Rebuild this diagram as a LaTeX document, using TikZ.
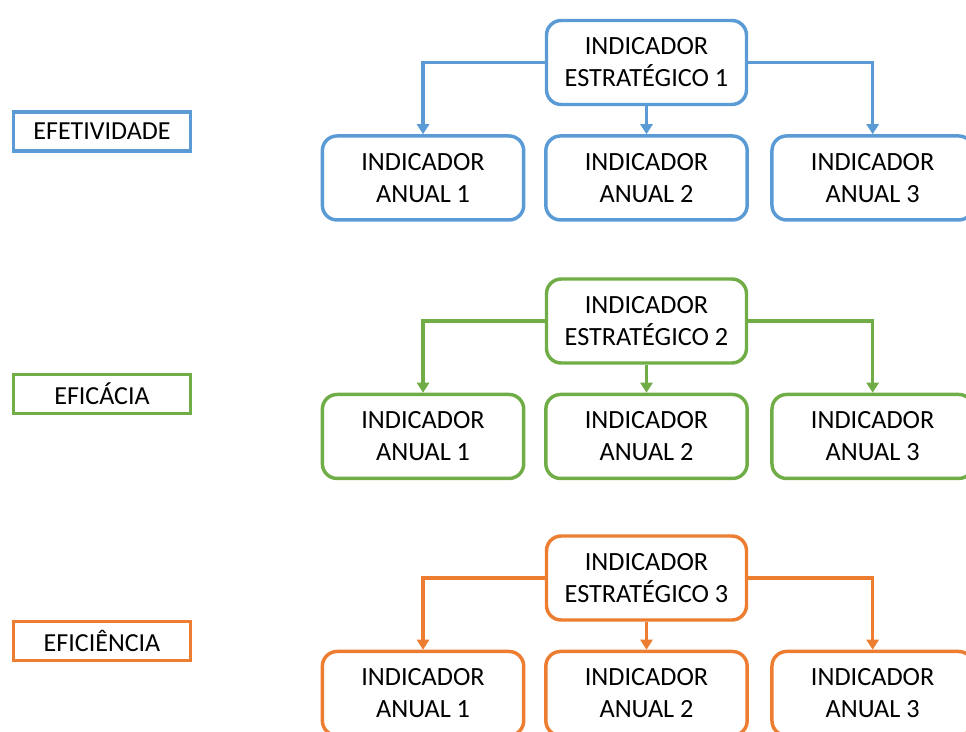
\documentclass[tikz,border=0pt]{standalone}
\usepackage{fontspec}
\setmainfont{Carlito}
\usetikzlibrary{positioning,arrows.meta}

\definecolor{azul}{HTML}{5B9BD5}
\definecolor{verde}{HTML}{70AD47}
\definecolor{laranja}{HTML}{ED7D31}

\tikzset{caixa/.style = {draw = #1, line width = 2.6pt, rounded corners = 11pt,
                         align = center, inner sep = 0pt,
                         font = \fontsize{19.7}{24}\selectfont},
         estrat/.style = {caixa = #1, minimum width = 150pt, minimum height = 63pt},
         anual/.style  = {caixa = #1, minimum width = 151pt, minimum height = 63pt},
         rotulo/.style = {draw = #1, line width = 2.6pt, minimum width = 133pt,
                          minimum height = 29pt, inner sep = 0pt,
                          font = \fontsize{19.5}{24}\selectfont},
         seta/.style   = {draw = #1, line width = 2.6pt,
                          -{Triangle[length = 7.5pt, width = 9pt]}}
        }

\begin{document}
\begin{tikzpicture}[x = 0.75pt, y = 0.75pt]
  \useasboundingbox (0,0) rectangle (966,-731);
  \clip (0,0) rectangle (966,-731);

  % efetividade
  \node[rotulo = azul] (r1) at (102,-131.5) {EFETIVIDADE};
  \node[estrat = azul] (e1) at (646.5,-62.5) {INDICADOR\\ESTRAT\'EGICO 1};
  \node[anual = azul, below = 21pt of e1] (a12) {INDICADOR\\ANUAL 2};
  \node[anual = azul, left = 14pt of a12] (a11) {INDICADOR\\ANUAL 1};
  \node[anual = azul, right = 16pt of a12] (a13) {INDICADOR\\ANUAL 3};
  \draw[seta = azul] (e1.west) -| (a11.north);
  \draw[seta = azul] (e1.south) -- (a12.north);
  \draw[seta = azul] (e1.east) -| (a13.north);

  % eficacia
  \node[rotulo = verde] (r2) at (102,-394) {EFIC\'ACIA};
  \node[estrat = verde] (e2) at (646.5,-321) {INDICADOR\\ESTRAT\'EGICO 2};
  \node[anual = verde, below = 21pt of e2] (a22) {INDICADOR\\ANUAL 2};
  \node[anual = verde, left = 14pt of a22] (a21) {INDICADOR\\ANUAL 1};
  \node[anual = verde, right = 16pt of a22] (a23) {INDICADOR\\ANUAL 3};
  \draw[seta = verde] (e2.west) -| (a21.north);
  \draw[seta = verde] (e2.south) -- (a22.north);
  \draw[seta = verde] (e2.east) -| (a23.north);

  % eficiencia
  \node[rotulo = laranja] (r3) at (102,-641) {EFICI\^ENCIA};
  \node[estrat = laranja] (e3) at (646.5,-578) {INDICADOR\\ESTRAT\'EGICO 3};
  \node[anual = laranja, below = 21pt of e3] (a32) {INDICADOR\\ANUAL 2};
  \node[anual = laranja, left = 14pt of a32] (a31) {INDICADOR\\ANUAL 1};
  \node[anual = laranja, right = 16pt of a32] (a33) {INDICADOR\\ANUAL 3};
  \draw[seta = laranja] (e3.west) -| (a31.north);
  \draw[seta = laranja] (e3.south) -- (a32.north);
  \draw[seta = laranja] (e3.east) -| (a33.north);
\end{tikzpicture}
\end{document}
